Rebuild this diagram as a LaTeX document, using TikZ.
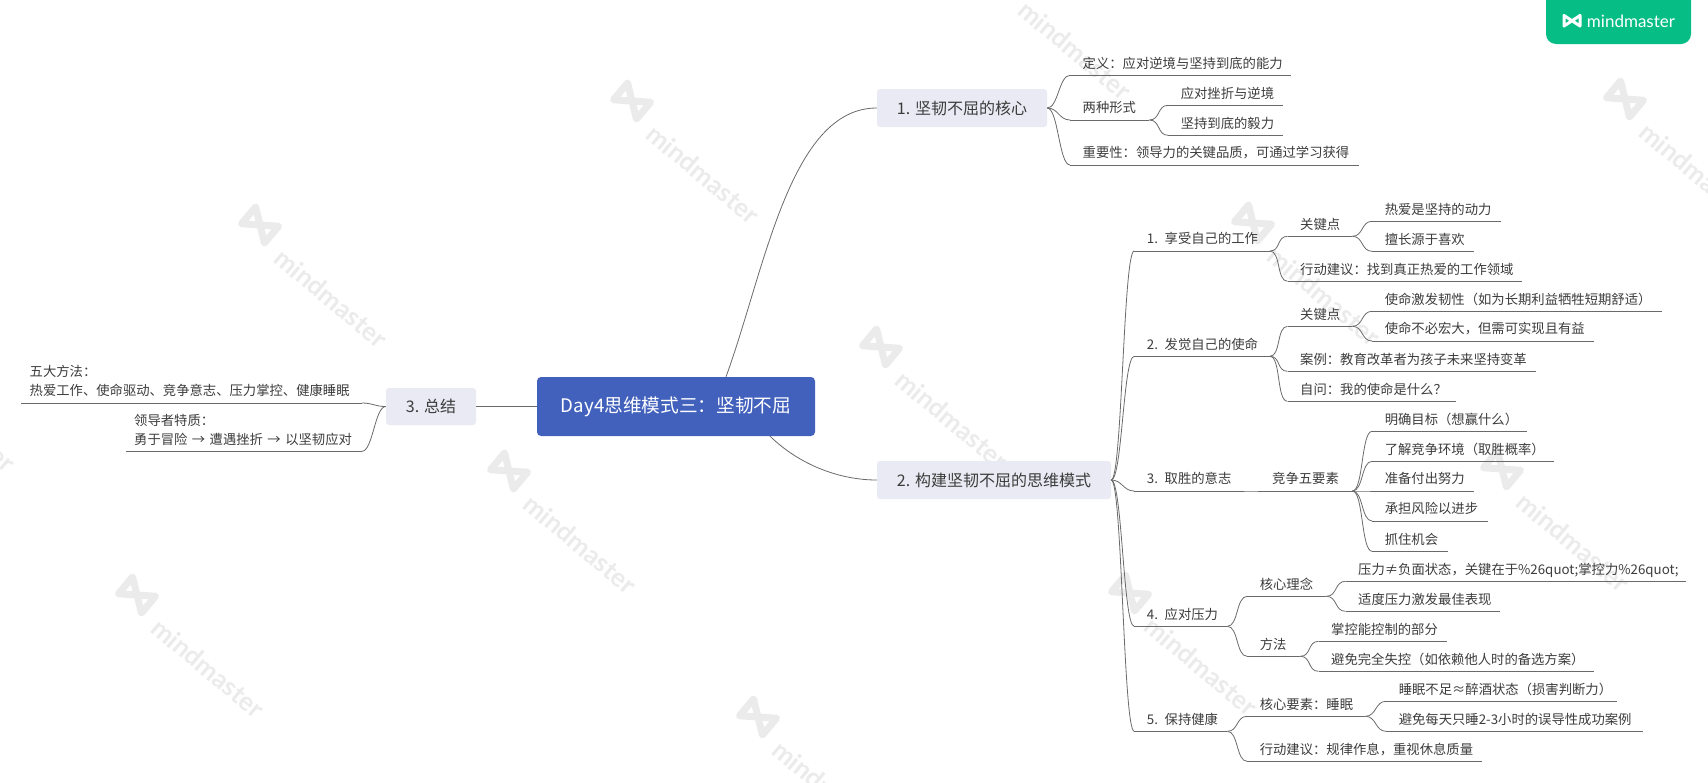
\documentclass[tikz,border=0pt]{standalone}
\usepackage{fontspec}
\setmainfont{Noto Sans CJK SC}
\newfontfamily\markfont{Lato}
\usetikzlibrary{positioning}
\definecolor{rootblue}{HTML}{4261BC}
\definecolor{topicgray}{HTML}{E9EAF3}
\definecolor{wiregray}{HTML}{6A6A6A}
\definecolor{inkgray}{HTML}{3C3C3C}
\definecolor{badgegreen}{HTML}{06BE85}
\definecolor{markgray}{HTML}{EBEBEB}

\begin{document}
\begin{tikzpicture}[
	x=1pt,y=-1pt,
	wire/.style={draw=wiregray,line width=0.8pt},
	link/.style={wire,out=0,in=180,distance=11pt},
	leaf/.style={anchor=south west,inner xsep=0pt,inner ysep=4pt,text depth=3pt,text width=#1pt,align=left,
		text=inkgray,font=\fontsize{13.33}{19}\selectfont},
	topic/.style={rectangle,fill=topicgray,rounded corners=3pt,inner sep=0pt,text=inkgray,
		font=\fontsize{16}{20}\selectfont},
	logo/.style={line join=round,line cap=round}]
\useasboundingbox (0,0) rectangle (1708,782);
\clip (0,0) rectangle (1708,782);

% background marks
\foreach \wx/\wy in {260/225,632/101,1004/-23,137/595,509/471,881/347,1253/223,1625/99,758/717,1130/593,1502/469,-112/349} {
	\draw[logo,draw=markgray,line width=7pt,rotate around={-40:(\wx,\wy)}]
		(\wx-15,\wy-11) -- (\wx-15,\wy+11) -- (\wx+15,\wy-11) -- (\wx+15,\wy+11) -- cycle;
	\node[text=markgray,rotate=-40,font=\markfont\bfseries\fontsize{26}{26}\selectfont] at (\wx+71,\wy+73) {mindmaster};
}

% badge
\fill[badgegreen,rounded corners=10pt] (1546,-14) rectangle (1691,44);
\draw[logo,draw=white,line width=3pt] (1564,15.5) -- (1564,26) -- (1580,15.5) -- (1580,26) -- cycle;
\node[text=white,font=\markfont\fontsize{17}{17}\selectfont] at (1631,21) {mindmaster};

% main topics
\node[rectangle,fill=rootblue,rounded corners=4pt,minimum width=278pt,minimum height=59pt,inner sep=0pt,
	text=white,font=\fontsize{18.67}{22}\selectfont] (root) at (676,406.5) {Day4思维模式三：坚韧不屈};
\node[topic,minimum width=170pt,minimum height=38pt] (core) at (962,108) {1. 坚韧不屈的核心};
\node[topic,minimum width=234pt,minimum height=38pt] (build) at (994,480) {2. 构建坚韧不屈的思维模式};
\node[topic,minimum width=90pt,minimum height=37pt] (recap) at (431,406.5) {3. 总结};

\draw[wire] (recap) -- (root);
\draw[wire] ([xshift=50pt]root.north) .. controls +(39,-107) and ([xshift=-87pt]core.west) .. (core.west);
\draw[wire] ([xshift=94pt]root.south) .. controls +(30,29) and ([xshift=-37pt]build.west) .. (build.west);

% 1
\node[leaf=208.5] (a1) at (1082.5,75.3) {定义：应对逆境与坚持到底的能力};
\node[leaf=66.5] (a2) at (1082.5,120) {两种形式};
\node[leaf=102.4] (a21) at (1180.6,105.3) {应对挫折与逆境};
\node[leaf=102.4] (a22) at (1180.6,135.3) {坚持到底的毅力};
\node[leaf=276.5] (a3) at (1082.5,165) {重要性：领导力的关键品质，可通过学习获得};

% 2
\node[leaf=122.8] (b1) at (1146.7,251) {1. 享受自己的工作};
\node[leaf=52] (b11) at (1300,236.3) {关键点};
\node[leaf=116.4] (b111) at (1384.6,221.3) {热爱是坚持的动力};
\node[leaf=89.4] (b112) at (1384.6,251.3) {擅长源于喜欢};
\node[leaf=222] (b12) at (1300,281.3) {行动建议：找到真正热爱的工作领域};
\node[leaf=122.8] (b2) at (1146.7,356.3) {2. 发觉自己的使命};
\node[leaf=52] (b21) at (1300,326.3) {关键点};
\node[leaf=276.8] (b211) at (1384.6,311.3) {使命激发韧性（如为长期利益牺牲短期舒适）};
\node[leaf=209.4] (b212) at (1384.6,341) {使命不必宏大，但需可实现且有益};
\node[leaf=236] (b22) at (1300,371.3) {案例：教育改革者为孩子未来坚持变革};
\node[leaf=156] (b23) at (1300,401.3) {自问：我的使命是什么？};
\node[leaf=95.3] (b3) at (1146.7,491) {3. 取胜的意志};
\node[leaf=80] (b31) at (1272,491) {竞争五要素};
\node[leaf=142.4] (b311) at (1384.6,431.3) {明确目标（想赢什么）};
\node[leaf=169.4] (b312) at (1384.6,461.3) {了解竞争环境（取胜概率）};
\node[leaf=89.4] (b313) at (1384.6,491) {准备付出努力};
\node[leaf=103] (b314) at (1384.6,521) {承担风险以进步};
\node[leaf=63.4] (b315) at (1384.6,551.3) {抓住机会};
\node[leaf=80.3] (b4) at (1146.7,626.3) {4. 应对压力};
\node[leaf=66.4] (b41) at (1259.6,596.3) {核心理念};
\node[leaf=328] (b411) at (1358,581.3) {压力≠负面状态，关键在于\%26quot;掌控力\%26quot;};
\node[leaf=142] (b412) at (1358,611.3) {适度压力激发最佳表现};
\node[leaf=40.4] (b42) at (1259.6,656.3) {方法};
\node[leaf=116] (b421) at (1331,641.3) {掌控能控制的部分};
\node[leaf=263] (b422) at (1331,671.3) {避免完全失控（如依赖他人时的备选方案）};
\node[leaf=80.3] (b5) at (1146.7,731.3) {5. 保持健康};
\node[leaf=105.4] (b51) at (1259.6,716.3) {核心要素：睡眠};
\node[leaf=218.4] (b511) at (1398.6,701.3) {睡眠不足≈醉酒状态（损害判断力）};
\node[leaf=244.4] (b512) at (1398.6,731.3) {避免每天只睡2-3小时的误导性成功案例};
\node[leaf=222.4] (b52) at (1259.6,761.3) {行动建议：规律作息，重视休息质量};

% 3
\node[leaf=332,text depth=22pt] (c1) at (29.5,403) {五大方法：\\热爱工作、使命驱动、竞争意志、压力掌控、健康睡眠};
\node[leaf=227.5,text depth=22pt] (c2) at (134,451.3) {领导者特质：\\勇于冒险 → 遭遇挫折 → 以坚韧应对};

\foreach \from/\to in {core/a1,core/a2,core/a3,build/b1,build/b2,build/b3,build/b4,build/b5} {
	\draw[link] (\from.east) to ([xshift=-12.5pt]\to.south west);
	\draw[wire] ([xshift=-12.5pt]\to.south west) -- (\to.south east);
}
\foreach \from/\to in {a2/a21,a2/a22,b1/b11,b1/b12,b11/b111,b11/b112,b2/b21,b2/b22,b2/b23,b21/b211,b21/b212,
	b3/b31,b31/b311,b31/b312,b31/b313,b31/b314,b31/b315,b4/b41,b4/b42,b41/b411,b41/b412,b42/b421,b42/b422,
	b5/b51,b5/b52,b51/b511,b51/b512} {
	\draw[link] (\from.south east) to ([xshift=-12.5pt]\to.south west);
	\draw[wire] ([xshift=-12.5pt]\to.south west) -- (\to.south east);
}
\foreach \to in {c1,c2} {
	\draw[wire,out=180,in=0,distance=11pt] (recap.west) to (\to.south east);
	\draw[wire] ([xshift=-8.5pt]\to.south west) -- (\to.south east);
}

\end{tikzpicture}
\end{document}
